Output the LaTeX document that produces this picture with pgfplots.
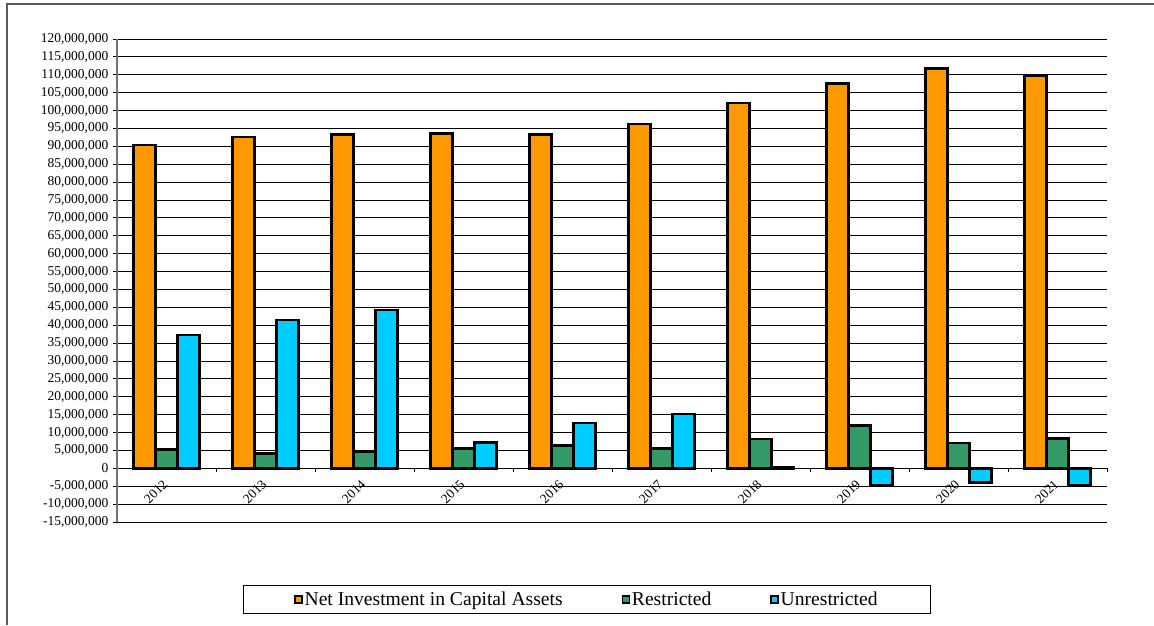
\documentclass[border=0pt]{standalone}
\usepackage{fontspec}
\setmainfont{Liberation Serif}
\usepackage{pgfplots}
\pgfplotsset{compat=1.18}

\definecolor{netinv}{RGB}{255,153,0}
\definecolor{restr}{RGB}{51,153,102}
\definecolor{unrestr}{RGB}{0,204,255}

\begin{document}
\begin{tikzpicture}[x=1pt,y=1pt]
\useasboundingbox (0,0) rectangle (1154,625);
% outer frame (top and left edge only visible)
\draw[black!65, line width=1.5pt] (7,0) -- (7,621) -- (1154,621);

\begin{axis}[
  at={(117pt,103pt)}, anchor=south west,
  width=990pt, height=483pt, scale only axis,
  xmin=-0.5, xmax=9.5,
  ymin=-15000000, ymax=120000000,
  enlargelimits=false,
  axis y line=left, axis x line=middle,
  axis line style={-},
  every outer y axis line/.append style={-, black!55, line width=1.3pt},
  every inner x axis line/.append style={-, black, line width=1pt},
  ybar=0pt, bar width=0.222,
  xtick={0,1,2,3,4,5,6,7,8,9},
  xticklabels={2012,2013,2014,2015,2016,2017,2018,2019,2020,2021},
  minor xtick={-0.5,0.5,1.5,2.5,3.5,4.5,5.5,6.5,7.5,8.5,9.5},
  major x tick style={draw=none},
  tick align=outside,
  major tick length=4pt, minor tick length=4pt,
  tick style={black, line width=0.8pt},
  ytick={-15000000,-10000000,-5000000,0,5000000,10000000,15000000,20000000,25000000,30000000,35000000,40000000,45000000,50000000,55000000,60000000,65000000,70000000,75000000,80000000,85000000,90000000,95000000,100000000,105000000,110000000,115000000,120000000},
  scaled y ticks=false,
  /pgf/number format/assume math mode=true,
  yticklabel style={font=\fontsize{13.5}{15}\selectfont, inner sep=4.5pt,
    /pgf/number format/fixed, /pgf/number format/precision=0,
    /pgf/number format/1000 sep={,}},
  xticklabel style={font=\fontsize{13.4}{15}\selectfont, xshift=-0.5pt, yshift=-9pt, rotate=45, anchor=east, inner sep=1pt},
  ymajorgrids,
  major grid style={black, line width=0.9pt},
  legend columns=3,
  legend cell align=left,
  legend image code/.code={\draw[#1, draw=black, line width=1.3pt] (0pt,-3.5pt) rectangle (7pt,3.5pt);},
  legend style={at={(0.4747,-0.1605)}, anchor=center, draw=black, line width=0.8pt,
    font=\fontsize{19.6}{22}\selectfont, inner xsep=51pt, inner ysep=4.5pt,
    /tikz/every even column/.append style={column sep=57pt}},
]
\addplot[fill=netinv, draw=black, line width=2.5pt] coordinates {
  (0,90400000) (1,92600000) (2,93300000) (3,93600000) (4,93300000)
  (5,96200000) (6,102100000) (7,107500000) (8,111700000) (9,109800000)};
\addplot[fill=restr, draw=black, line width=2.5pt] coordinates {
  (0,5200000) (1,4100000) (2,4500000) (3,5500000) (4,6400000)
  (5,5500000) (6,8200000) (7,12000000) (8,7100000) (9,8400000)};
\addplot[fill=unrestr, draw=black, line width=2.5pt] coordinates {
  (0,37200000) (1,41400000) (2,44300000) (3,7200000) (4,12700000)
  (5,15200000) (6,200000) (7,-4600000) (8,-3900000) (9,-4600000)};
\legend{Net Investment in Capital Assets, Restricted, Unrestricted}
\end{axis}
\end{tikzpicture}
\end{document}
